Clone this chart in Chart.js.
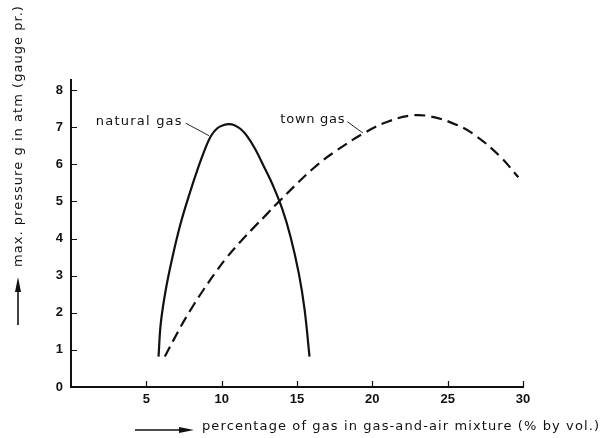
<!DOCTYPE html>
<html>
<head>
<meta charset="utf-8">
<script src="https://cdn.jsdelivr.net/npm/chart.js@4.4.0/dist/chart.umd.min.js"></script>
<style>
  html, body { margin: 0; padding: 0; background: #fff; }
</style>
</head>
<body>
<canvas id="chart" width="606" height="438"></canvas>
<script>
  // values
  var naturalGasX = [5.81, 5.96, 6.29, 6.74, 7.28, 7.95, 8.39, 8.83, 9.27, 9.71, 10.15, 10.48, 10.81, 11.26, 11.70, 12.25, 12.91, 13.36, 14.02, 14.57, 15.12, 15.50, 15.83];
  var naturalGasY = [0.82, 1.72, 2.62, 3.51, 4.41, 5.31, 5.85, 6.34, 6.75, 6.97, 7.06, 7.08, 7.06, 6.95, 6.75, 6.39, 5.85, 5.47, 4.80, 4.05, 3.06, 2.10, 0.82];
  var townGasX = [6.23, 6.84, 7.50, 8.17, 8.83, 9.60, 10.38, 11.26, 12.14, 13.03, 13.79, 16.11, 17.66, 19.54, 20.97, 22.52, 23.84, 25.61, 26.93, 28.48, 29.69];
  var townGasY = [0.82, 1.29, 1.78, 2.23, 2.64, 3.09, 3.51, 3.92, 4.30, 4.67, 4.99, 5.90, 6.38, 6.86, 7.14, 7.31, 7.29, 7.06, 6.75, 6.21, 5.65];
  var xTicks = [5, 10, 15, 20, 25, 30];
  var yTicks = [0, 1, 2, 3, 4, 5, 6, 7, 8];
  var seriesNames = ['natural gas', 'town gas'];
  var xTitle = 'percentage of gas in gas-and-air mixture (% by vol.)';
  var yTitle = 'max. pressure g in atm (gauge pr.)';

  function toPoints(xs, ys) {
    return xs.map(function(x, i) { return { x: x, y: ys[i] }; });
  }

  var textFont = '13px "DejaVu Sans"';

  // draw text stretched to a given width with letter spacing
  function spacedText(ctx, text, x, y, width) {
    ctx.letterSpacing = '0px';
    var w = ctx.measureText(text).width;
    var ls = (width - w) / text.length;
    ctx.letterSpacing = ls.toFixed(2) + 'px';
    ctx.fillText(text, x, y);
    ctx.letterSpacing = '0px';
  }

  var decor = {
    id: 'decor',
    afterDraw: function(chart) {
      var ctx = chart.ctx;
      var xs = chart.scales.x, ys = chart.scales.y;
      var area = chart.chartArea;
      ctx.save();
      ctx.strokeStyle = '#111';
      ctx.fillStyle = '#111';

      // tick marks pointing inwards
      ctx.lineWidth = 1.2;
      ctx.beginPath();
      xTicks.forEach(function(v) {
        var px = Math.round(xs.getPixelForValue(v)) + 0.5;
        ctx.moveTo(px, area.bottom);
        ctx.lineTo(px, area.bottom - 6);
      });
      yTicks.forEach(function(v) {
        if (v === 0) return;
        var py = Math.round(ys.getPixelForValue(v)) + 0.5;
        ctx.moveTo(area.left, py);
        ctx.lineTo(area.left + 6, py);
      });
      ctx.stroke();

      // curve labels with leader lines
      ctx.font = textFont;
      ctx.textBaseline = 'middle';
      ctx.textAlign = 'left';
      var nx = xs.getPixelForValue(7.42), ny = ys.getPixelForValue(7.16);
      spacedText(ctx, seriesNames[0], nx - 87, ny, 87);
      var tx = xs.getPixelForValue(18.21), ty = ys.getPixelForValue(7.20);
      spacedText(ctx, seriesNames[1], tx - 65, ty, 65);

      ctx.lineWidth = 0.9;
      ctx.beginPath();
      ctx.moveTo(nx + 3, ny + 2);
      ctx.lineTo(xs.getPixelForValue(9.16), ys.getPixelForValue(6.77));
      ctx.moveTo(tx + 2, ty + 2);
      ctx.lineTo(xs.getPixelForValue(19.38), ys.getPixelForValue(6.84));
      ctx.stroke();

      // x axis title with arrow
      var ay = 430;
      ctx.lineWidth = 1.6;
      ctx.beginPath();
      ctx.moveTo(135, ay);
      ctx.lineTo(182, ay);
      ctx.stroke();
      ctx.beginPath();
      ctx.moveTo(194, ay);
      ctx.lineTo(179, ay - 3);
      ctx.lineTo(179, ay + 3);
      ctx.closePath();
      ctx.fill();
      spacedText(ctx, xTitle, 202, 427, 398);

      // y axis title with arrow
      var ax = 18;
      ctx.beginPath();
      ctx.moveTo(ax, 325);
      ctx.lineTo(ax, 290);
      ctx.stroke();
      ctx.beginPath();
      ctx.moveTo(ax, 277);
      ctx.lineTo(ax - 3, 292);
      ctx.lineTo(ax + 3, 292);
      ctx.closePath();
      ctx.fill();
      ctx.translate(19, 267);
      ctx.rotate(-Math.PI / 2);
      spacedText(ctx, yTitle, 0, 0, 262);
      ctx.restore();
    }
  };

  var ctx = document.getElementById('chart').getContext('2d');
  var chart = new Chart(ctx, {
    type: 'scatter',
    data: {
      datasets: [{
        label: seriesNames[0],
        data: toPoints(naturalGasX, naturalGasY),
        showLine: true,
        borderColor: '#111',
        borderWidth: 2.2,
        pointRadius: 0,
        tension: 0.4
      }, {
        label: seriesNames[1],
        data: toPoints(townGasX, townGasY),
        showLine: true,
        borderColor: '#111',
        borderWidth: 2.2,
        borderDash: [11, 6],
        pointRadius: 0,
        tension: 0.4
      }]
    },
    options: {
      responsive: false,
      animation: false,
      devicePixelRatio: 1,
      layout: { padding: { top: 80, right: 83, left: 0, bottom: 0 } },
      plugins: { legend: { display: false }, tooltip: { enabled: false } },
      scales: {
        x: {
          type: 'linear',
          min: 0,
          max: 30,
          afterBuildTicks: function(scale) {
            scale.ticks = xTicks.map(function(v) { return { value: v }; });
          },
          afterFit: function(scale) { scale.height = 51; },
          grid: { display: false, drawTicks: false },
          border: { display: true, color: '#111', width: 2 },
          ticks: {
            padding: 5,
            color: '#111',
            font: { family: 'Liberation Sans', size: 13, weight: 'bold' }
          }
        },
        y: {
          type: 'linear',
          min: 0,
          max: 8.27,
          afterBuildTicks: function(scale) {
            scale.ticks = yTicks.map(function(v) { return { value: v }; });
          },
          afterFit: function(scale) { scale.width = 71; },
          grid: { display: false, drawTicks: false },
          border: { display: true, color: '#111', width: 2 },
          ticks: {
            padding: 8,
            color: '#111',
            font: { family: 'Liberation Sans', size: 13, weight: 'bold' }
          }
        }
      }
    },
    plugins: [decor]
  });
</script>
</body>
</html>
